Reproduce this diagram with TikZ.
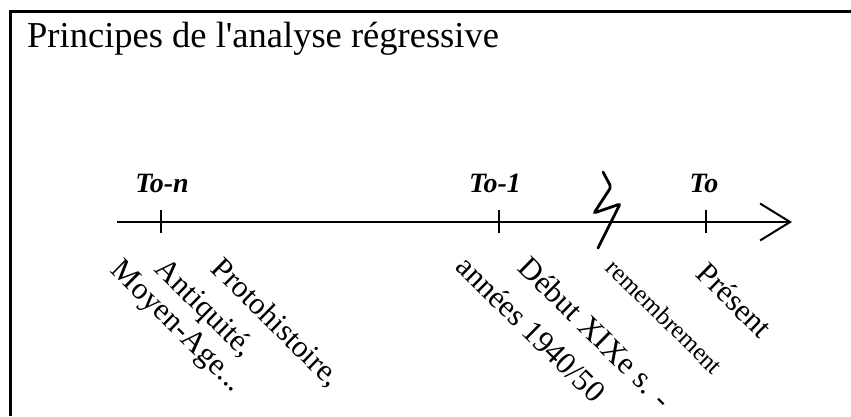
\documentclass[tikz,border=0pt]{standalone}
\usepackage{fontspec}
\setmainfont{Liberation Serif}
\newfontfamily\titrefont{Liberation Serif}
\usetikzlibrary{arrows.meta}

\begin{document}
\begin{tikzpicture}[x=1pt,y=-1pt,
  epoque/.style={anchor=north west,inner sep=0pt,rotate=-44.5,font=\fontsize{31}{31}\selectfont},
  repere/.style={inner sep=0pt,font=\fontsize{28}{28}\selectfont\bfseries\itshape},
  graduation/.style={line width=1.2pt}]
\useasboundingbox (0,0) rectangle (851,416);
\coordinate (coin) at (10,11);
\draw[line width=3pt] (coin |- 0,416) -- (coin) -- (coin -| 851,0);
\node[anchor=base west,inner sep=0pt,font=\fontsize{36.5}{36.5}\titrefont] (titre) at (27,47) {Principes de l'analyse régressive};
\coordinate (debut) at (117,222);
\coordinate (fin) at (792,222);
\draw[line width=2.2pt,-{Straight Barb[length=30pt,width=37pt,line width=2pt]}] (debut) -- (fin);
\coordinate (Ton) at (161,222);
\coordinate (To1) at (499,222);
\coordinate (To) at (706,222);
\draw[graduation] ([yshift=12pt]Ton) -- ([yshift=-11pt]Ton);
\draw[graduation] ([yshift=12pt]To1) -- ([yshift=-11pt]To1);
\draw[graduation] ([yshift=12pt]To) -- ([yshift=-11pt]To);
\node[repere] (lTon) at (162,183) {To-n};
\node[repere] (lTo1) at (495,183) {To-1};
\node[repere] (lTo) at (704,183) {To};
\draw[line width=2.8pt,rounded corners=2pt,line cap=round] (603,172) -- (611,187) -- (594,213) -- (620,204) -- (598,248);
\node[epoque] (moyenage) at (124,257) {Moyen-Age...};
\node[epoque] (antiquite) at (169,255) {Antiquité,};
\node[epoque] (proto) at (225,255) {Protohistoire,};
\node[epoque] (annees) at (470,253) {années 1940/50};
\node[epoque] (xixe) at (532,254) {Début XIXe s. -};
\node[epoque,font=\fontsize{25}{25}\selectfont] (remembrement) at (617,257) {remembrement};
\node[epoque] (present) at (710,260) {Présent};
\end{tikzpicture}
\end{document}
